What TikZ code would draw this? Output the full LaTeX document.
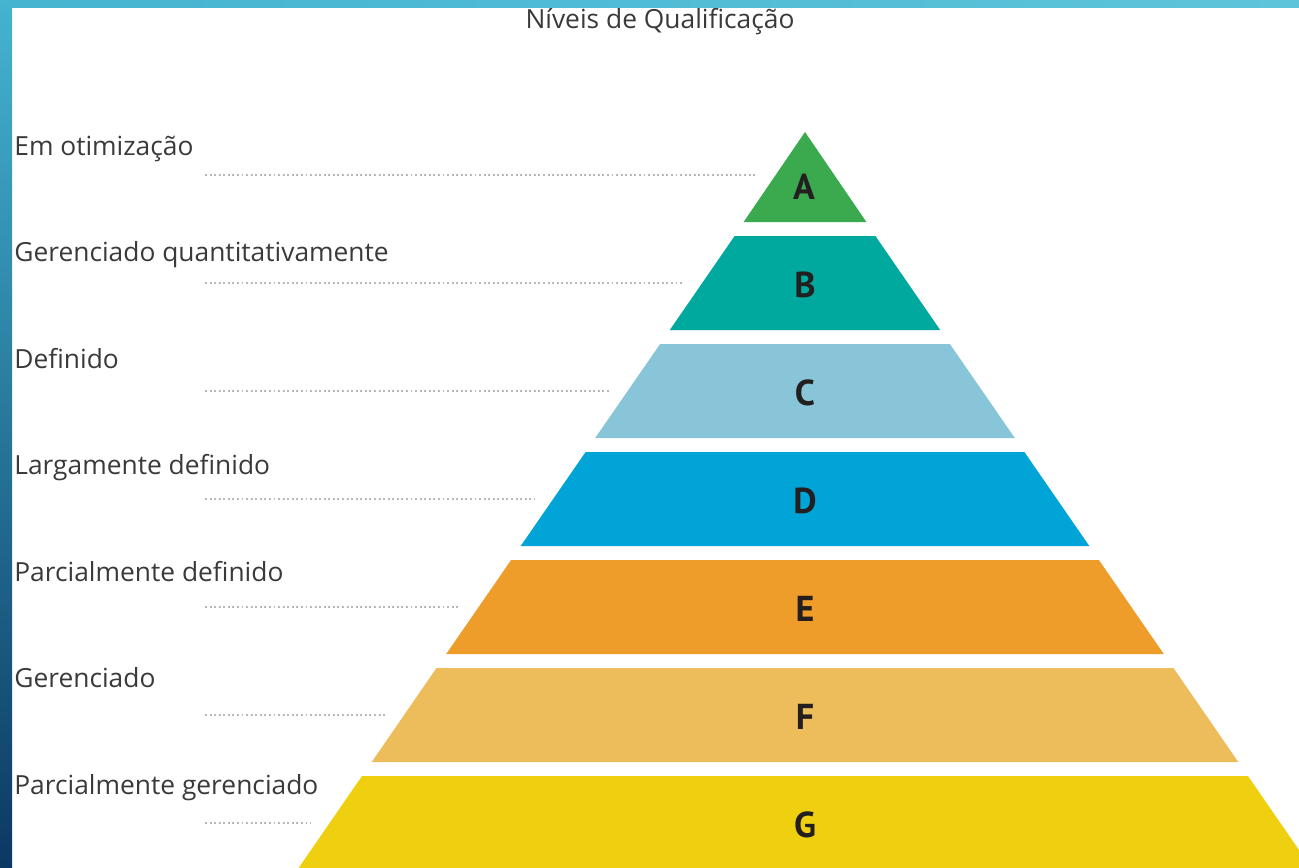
\documentclass[tikz,border=0pt]{standalone}
\usepackage{fontspec}
\setmainfont{PT Sans}
\newfontfamily\lblfont{Open Sans}

\definecolor{lvA}{HTML}{3BAA4E}
\definecolor{lvB}{HTML}{00A99D}
\definecolor{lvC}{HTML}{88C5D8}
\definecolor{lvD}{HTML}{00A4D7}
\definecolor{lvE}{HTML}{EE9C2A}
\definecolor{lvF}{HTML}{EDBD5B}
\definecolor{lvG}{HTML}{EFD011}
\definecolor{lettergray}{HTML}{231F20}
\definecolor{textgray}{HTML}{3A3A3A}
\definecolor{dotgray}{HTML}{B8B8B8}
\definecolor{stripLight}{HTML}{5EC4DA}
\definecolor{stripMid}{HTML}{44B4D0}
\definecolor{stripDark}{HTML}{0B3864}

\begin{document}
\begin{tikzpicture}[x=0.02cm,y=-0.02cm,
    lbl/.style={anchor=base west,inner sep=0pt,text=textgray,font=\lblfont\fontsize{15}{18}\selectfont},
    lettr/.style={anchor=base,inner sep=0pt,text=lettergray,font=\fontsize{20.5}{24}\selectfont\bfseries},
    guide/.style={draw=dotgray,line width=1.1pt,dash pattern=on 1.1pt off 1.5pt}]
    \useasboundingbox (0,0) rectangle (1299,867);

    % pyramid
    \begin{scope}
    \clip (0,0) rectangle (1299,867);
    \fill[lvA] (805,132) -- (866.4,222) -- (743.6,222) -- cycle;
    \fill[lvB] (734.6,236) -- (875.4,236) -- (940.2,330) -- (669.8,330) -- cycle;
    \fill[lvC] (660.1,344) -- (949.9,344) -- (1014.8,438) -- (595.2,438) -- cycle;
    \fill[lvD] (585.6,452) -- (1024.4,452) -- (1089.3,546) -- (520.7,546) -- cycle;
    \fill[lvE] (511.1,560) -- (1098.9,560) -- (1163.8,654) -- (446.2,654) -- cycle;
    \fill[lvF] (436.5,668) -- (1173.5,668) -- (1238.3,762) -- (371.7,762) -- cycle;
    \fill[lvG] (362,776) -- (1248,776) -- (1319.7,880) -- (290.3,880) -- cycle;
    \end{scope}

    \node[lettr] (lA) at (804,199) {A};
    \node[lettr] (lB) at (805,297) {B};
    \node[lettr] (lC) at (805,405) {C};
    \node[lettr] (lD) at (805,513) {D};
    \node[lettr] (lE) at (805,621) {E};
    \node[lettr] (lF) at (805,729) {F};
    \node[lettr] (lG) at (805,837) {G};

    % labels
    \node[lbl,anchor=base] (title) at (660,28) {Níveis de Qualificação};
    \node[lbl] (tA) at (14,155) {Em otimização};
    \node[lbl] (tB) at (14,261.5) {Gerenciado quantitativamente};
    \node[lbl] (tC) at (14,368) {Definido};
    \node[lbl] (tD) at (14,474.5) {Largamente definido};
    \node[lbl] (tE) at (14,581) {Parcialmente definido};
    \node[lbl] (tF) at (14,687.5) {Gerenciado};
    \node[lbl] (tG) at (14,794) {Parcialmente gerenciado};

    % dotted guides
    \draw[guide] (205,175) -- (757,175);
    \draw[guide] (205,283) -- (683,283);
    \draw[guide] (205,391) -- (609,391);
    \draw[guide] (205,499) -- (534,499);
    \draw[guide] (205,607) -- (460,607);
    \draw[guide] (205,715) -- (385,715);
    \draw[guide] (205,823) -- (311,823);

    % frame strips
    \shade[left color=stripMid,right color=stripLight] (0,0) rectangle (1299,7);
    \shade[top color=stripMid,bottom color=stripDark] (0,0) rectangle (12,867);
\end{tikzpicture}
\end{document}
